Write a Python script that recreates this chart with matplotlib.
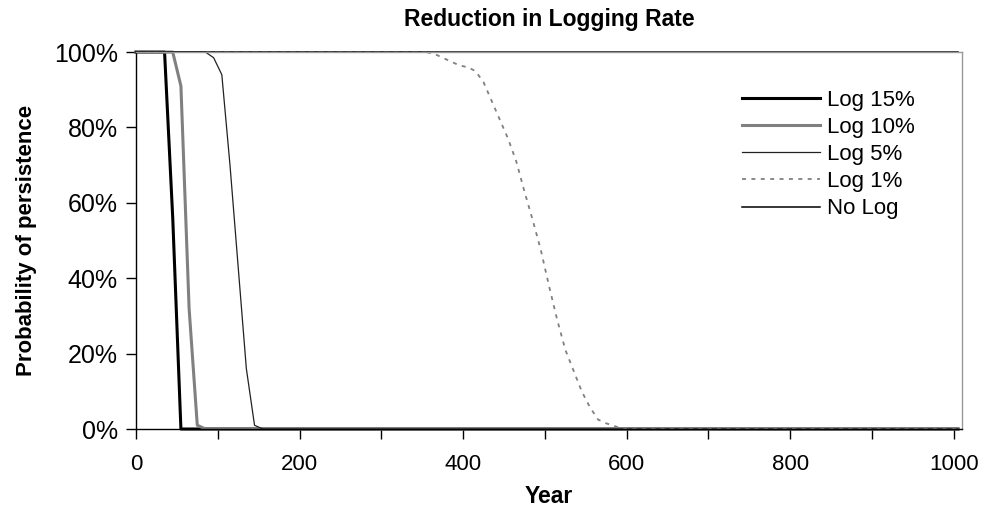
import matplotlib
matplotlib.use("Agg")
import matplotlib.pyplot as plt
from matplotlib.ticker import PercentFormatter, MultipleLocator

plt.rcParams['font.family'] = ['Liberation Sans', 'DejaVu Sans']

# values (year, probability of persistence)
log15_year = [0, 35, 45, 55, 1005]
log15_prob = [1.0, 1.0, 0.56, 0.0, 0.0]

log10_year = [0, 45, 55, 65, 75, 85, 1005]
log10_prob = [1.0, 1.0, 0.91, 0.32, 0.01, 0.0, 0.0]

log5_year = [0, 85, 95, 105, 115, 125, 135, 145, 155, 1005]
log5_prob = [1.0, 1.0, 0.985, 0.94, 0.70, 0.43, 0.16, 0.01, 0.0, 0.0]

log1_year = [0, 355, 365, 375, 385, 395, 405, 415, 425, 435, 445, 455, 465,
             475, 485, 495, 505, 515, 525, 535, 545, 555, 565, 575, 585, 595, 1005]
log1_prob = [1.0, 1.0, 0.995, 0.985, 0.975, 0.965, 0.96, 0.95, 0.92, 0.87, 0.82,
             0.77, 0.71, 0.63, 0.555, 0.475, 0.38, 0.29, 0.21, 0.155, 0.10,
             0.058, 0.025, 0.015, 0.008, 0.0, 0.0]

nolog_year = [0, 1005]
nolog_prob = [1.0, 1.0]

fig = plt.figure(figsize=(9.85, 5.08), dpi=100)
ax = fig.add_axes([0.138, 0.1555, 0.8387, 0.742])

ax.plot(log15_year, log15_prob, color='black', lw=2.2, label='Log 15%', clip_on=False)
ax.plot(log10_year, log10_prob, color='#808080', lw=2.2, label='Log 10%', clip_on=False)
ax.plot(log5_year, log5_prob, color='#222222', lw=0.9, label='Log 5%', clip_on=False)
ax.plot(log1_year, log1_prob, color='#808080', lw=1.3, ls=(0, (2.2, 3)),
        label='Log 1%', clip_on=False)
ax.plot(nolog_year, nolog_prob, color='black', lw=1.1, label='No Log', clip_on=False)

ax.set_xlim(0, 1010)
ax.set_ylim(0, 1)
ax.xaxis.set_major_locator(MultipleLocator(200))
ax.xaxis.set_minor_locator(MultipleLocator(100))
ax.yaxis.set_major_locator(MultipleLocator(0.2))
ax.yaxis.set_major_formatter(PercentFormatter(1.0, decimals=0))
ax.tick_params(axis='both', which='both', direction='out', length=7, width=1,
               color='black', labelsize=16)
ax.tick_params(axis='y', labelsize=18, pad=6)
ax.tick_params(axis='x', pad=11)

for side in ['left', 'bottom']:
    ax.spines[side].set_color('black')
    ax.spines[side].set_linewidth(1)
for side in ['top', 'right']:
    ax.spines[side].set_color('#999999')
    ax.spines[side].set_linewidth(1)

ax.set_title('Reduction in Logging Rate', fontsize=16.5, fontweight='bold', pad=19)
ax.set_xlabel('Year', fontsize=16.5, fontweight='bold', labelpad=7)
ax.set_ylabel('Probability of persistence', fontsize=16, fontweight='bold', labelpad=12)

ax.legend(loc='upper left', bbox_to_anchor=(0.72, 0.93), frameon=False,
          fontsize=16, handlelength=3.5, handletextpad=0.35, labelspacing=0.28,
          borderpad=0)

fig.savefig('out.png', dpi=100)
